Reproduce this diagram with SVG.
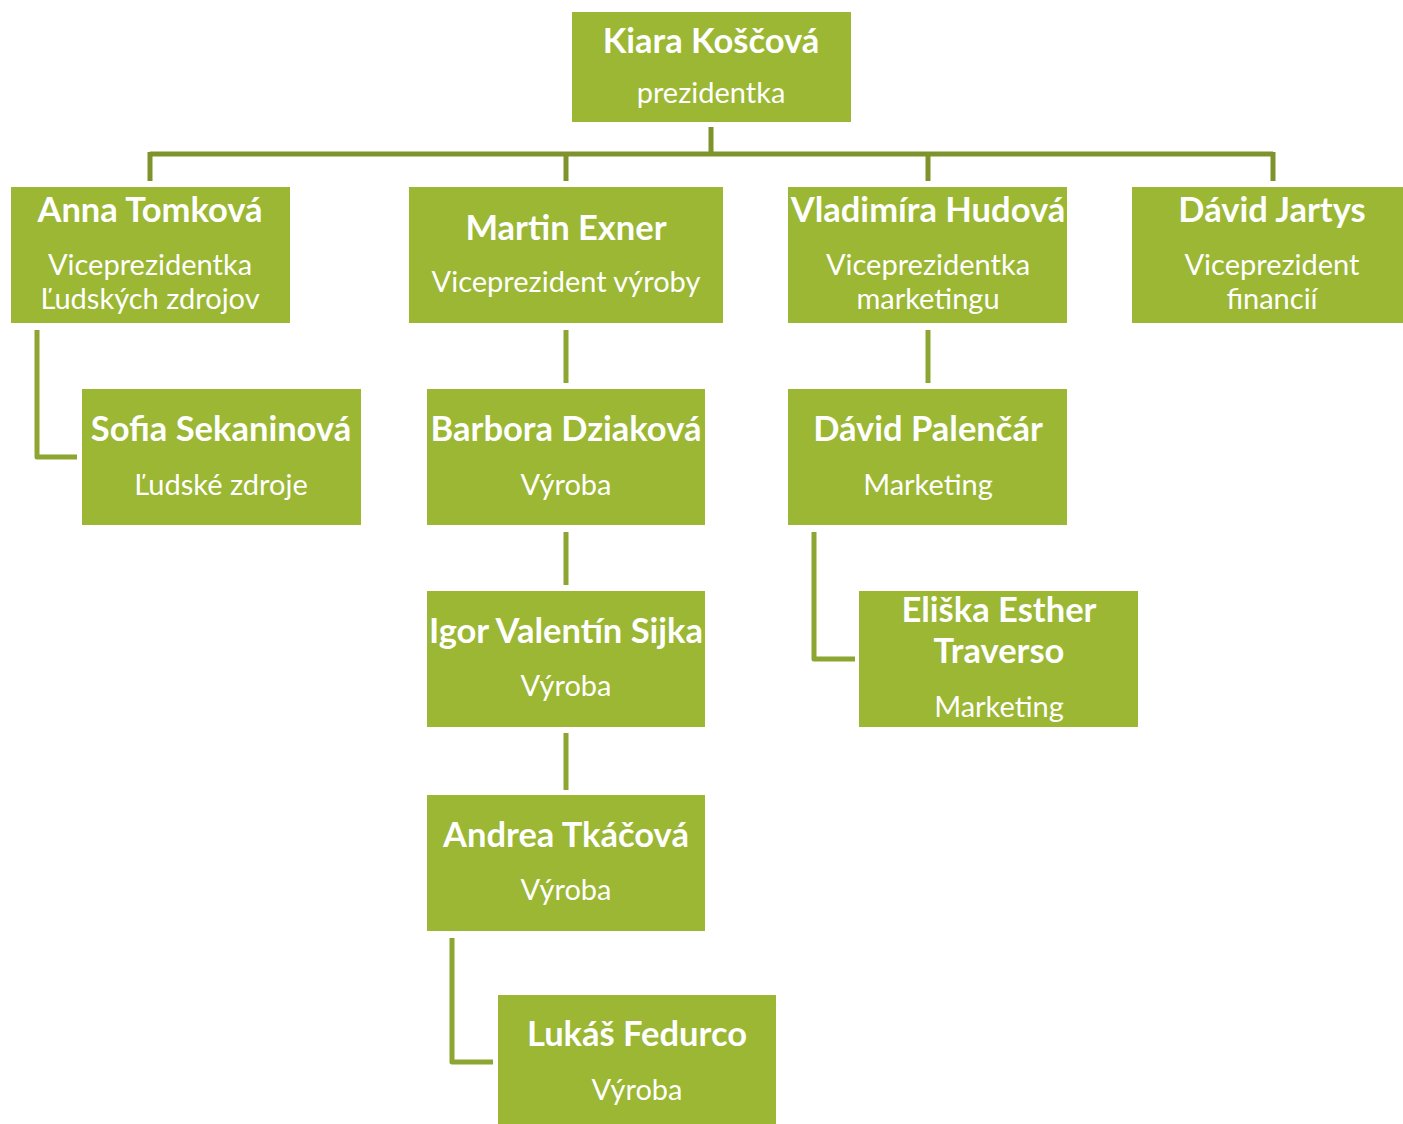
<svg xmlns="http://www.w3.org/2000/svg" width="1403" height="1124" viewBox="0 0 1403 1124">
<style>
.box{fill:#9BB734;}
.n{font-family:Lato,"Liberation Sans",sans-serif;font-weight:bold;font-size:34.5px;fill:#fff;text-anchor:middle;}
.s{font-family:Lato,"Liberation Sans",sans-serif;font-size:29px;fill:#fff;text-anchor:middle;}
.c{fill:none;stroke:#8CA631;stroke-width:5;stroke-linejoin:round;}
.ct{fill:none;stroke:#7E932B;stroke-width:5;}
</style>
<rect width="1403" height="1124" fill="#fff"/>
<g id="connectors">
<path class="ct" d="M711 127 V154 M150 154 H1273 M150 152 V181 M566 152 V181 M928 152 V181 M1273 152 V181"/>
<path class="c" d="M37 330 V457 H77"/>
<path class="c" d="M566 330 V383"/>
<path class="c" d="M928 330 V383"/>
<path class="c" d="M566 532 V585"/>
<path class="c" d="M566 733 V790"/>
<path class="c" d="M814 532 V659 H855"/>
<path class="c" d="M452 938 V1062 H493"/>
</g>
<g id="kiara"><rect class="box" x="572" y="12" width="279" height="110"/><text class="n" x="711" y="53">Kiara Koščová</text><text class="s" x="711" y="103">prezidentka</text></g>
<g id="anna"><rect class="box" x="11" y="187" width="279" height="136"/><text class="n" x="150" y="222">Anna Tomková</text><text class="s" x="150" y="275">Viceprezidentka</text><text class="s" x="150" y="309">Ľudských zdrojov</text></g>
<g id="martin"><rect class="box" x="409" y="187" width="314" height="136"/><text class="n" x="566" y="240">Martin Exner</text><text class="s" x="566" y="292">Viceprezident výroby</text></g>
<g id="vladimira"><rect class="box" x="788" y="187" width="279" height="136"/><text class="n" x="928" y="222">Vladimíra Hudová</text><text class="s" x="928" y="275">Viceprezidentka</text><text class="s" x="928" y="309">marketingu</text></g>
<g id="david-j"><rect class="box" x="1132" y="187" width="271" height="136"/><text class="n" x="1272" y="222">Dávid Jartys</text><text class="s" x="1272" y="275">Viceprezident</text><text class="s" x="1272" y="309">financií</text></g>
<g id="sofia"><rect class="box" x="82" y="389" width="279" height="136"/><text class="n" x="221" y="441">Sofia Sekaninová</text><text class="s" x="221" y="495">Ľudské zdroje</text></g>
<g id="barbora"><rect class="box" x="427" y="389" width="278" height="136"/><text class="n" x="566" y="441">Barbora Dziaková</text><text class="s" x="566" y="495">Výroba</text></g>
<g id="david-p"><rect class="box" x="788" y="389" width="279" height="136"/><text class="n" x="928" y="441">Dávid Palenčár</text><text class="s" x="928" y="495">Marketing</text></g>
<g id="igor"><rect class="box" x="427" y="591" width="278" height="136"/><text class="n" x="566" y="643">Igor Valentín Sijka</text><text class="s" x="566" y="696">Výroba</text></g>
<g id="eliska"><rect class="box" x="859" y="591" width="279" height="136"/><text class="n" x="999" y="622">Eliška Esther</text><text class="n" x="999" y="663">Traverso</text><text class="s" x="999" y="717">Marketing</text></g>
<g id="andrea"><rect class="box" x="427" y="795" width="278" height="136"/><text class="n" x="566" y="847">Andrea Tkáčová</text><text class="s" x="566" y="900">Výroba</text></g>
<g id="lukas"><rect class="box" x="498" y="995" width="278" height="129"/><text class="n" x="637" y="1046">Lukáš Fedurco</text><text class="s" x="637" y="1100">Výroba</text></g>
</svg>
